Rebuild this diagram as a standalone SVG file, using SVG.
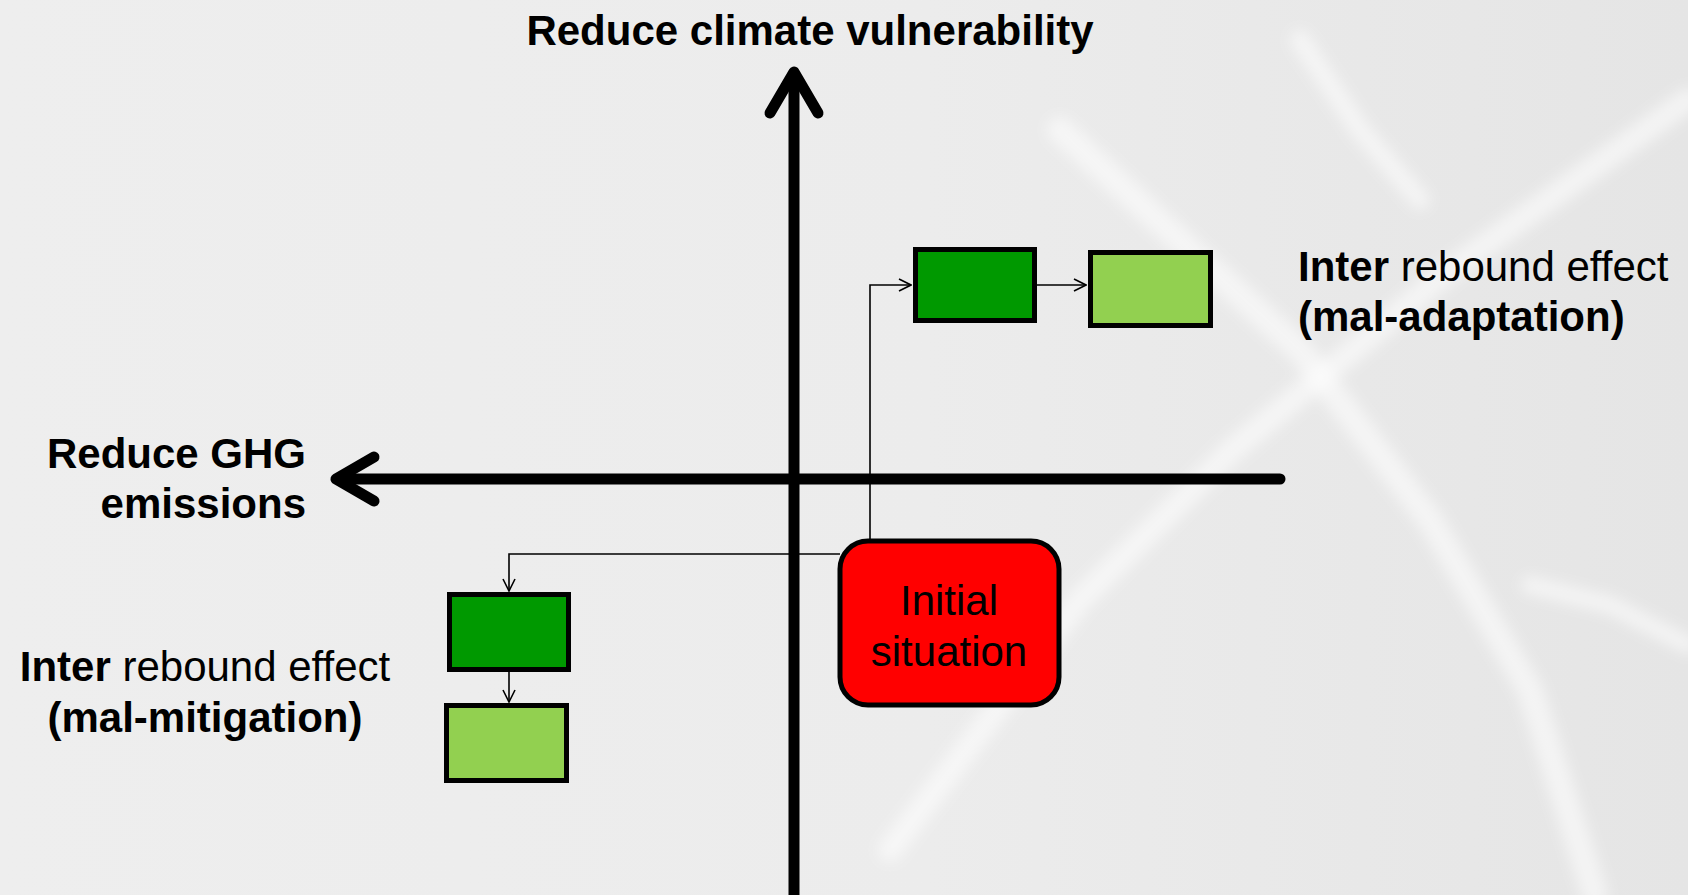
<svg xmlns="http://www.w3.org/2000/svg" width="1688" height="895" viewBox="0 0 1688 895">
  <defs>
    <style>
      .t { font-family: "Liberation Sans", Arial, sans-serif; font-size: 42px; fill: #000; }
      .b { font-weight: bold; }
      .box { stroke: #000; stroke-width: 5; }
      .dark { fill: #009900; }
      .light { fill: #92D050; }
      .conn { fill: none; stroke: #000; stroke-width: 1.6; }
      .axis { fill: none; stroke: #000; stroke-width: 11; stroke-linecap: round; stroke-linejoin: round; }
      .streak { fill: none; stroke: #ffffff; stroke-linecap: round; opacity: 0.55; }
    </style>
    <marker id="open" viewBox="0 0 14 14" refX="13" refY="7" markerWidth="14" markerHeight="14" markerUnits="userSpaceOnUse" orient="auto">
      <path d="M1,1 L13,7 L1,13" fill="none" stroke="#000" stroke-width="1.6"/>
    </marker>
    <filter id="blur" x="-20%" y="-20%" width="140%" height="140%">
      <feGaussianBlur stdDeviation="7"/>
    </filter>
    <linearGradient id="bgGrad" x1="0" y1="0" x2="1" y2="0">
      <stop offset="0" stop-color="#eeeeee"/>
      <stop offset="0.55" stop-color="#ececec"/>
      <stop offset="1" stop-color="#e5e5e5"/>
    </linearGradient>
  </defs>

  <!-- background -->
  <g id="background">
    <rect x="0" y="0" width="1688" height="895" fill="url(#bgGrad)"/>
    <g filter="url(#blur)">
      <path class="streak" stroke-width="26" d="M1060,130 L1190,250 L1300,350 L1430,520 L1530,690 L1595,895"/>
      <path class="streak" stroke-width="24" d="M1688,100 L1450,270 L1230,452 L1080,600 L890,850"/>
      <path class="streak" stroke-width="18" d="M1530,585 L1610,605 L1688,645"/>
      <path class="streak" stroke-width="20" d="M1300,40 L1360,130 L1420,200"/>
    </g>
  </g>

  <!-- axes -->
  <g id="axes">
    <line class="axis" x1="794" y1="900" x2="794" y2="74" stroke-linecap="butt"/>
    <polyline class="axis" points="770,113 794,72 818,113"/>
    <line class="axis" x1="1280" y1="479" x2="338" y2="479" stroke-linecap="butt"/>
    <polyline class="axis" points="374,457 336,479 374,501"/>
  </g>

  <!-- connectors -->
  <g id="connectors">
    <polyline class="conn" points="870,541 870,285 911,285" marker-end="url(#open)"/>
    <line class="conn" x1="1037" y1="285" x2="1086" y2="285" marker-end="url(#open)"/>
    <polyline class="conn" points="840,554 509,554 509,591" marker-end="url(#open)"/>
    <line class="conn" x1="509" y1="672" x2="509" y2="702" marker-end="url(#open)"/>
  </g>

  <!-- nodes -->
  <g id="initial">
    <rect x="840" y="541" width="219" height="164" rx="28" ry="28" fill="#FF0000" stroke="#000" stroke-width="5"/>
    <text class="t" x="949" y="615" text-anchor="middle">Initial</text>
    <text class="t" x="949" y="666" text-anchor="middle">situation</text>
  </g>
  <g id="adapt1">
    <rect class="box dark" x="915.5" y="249.5" width="119" height="71"/>
  </g>
  <g id="adapt2">
    <rect class="box light" x="1090.5" y="252.5" width="120" height="73"/>
  </g>
  <g id="mitig1">
    <rect class="box dark" x="449.5" y="594.5" width="119" height="75"/>
  </g>
  <g id="mitig2">
    <rect class="box light" x="446.5" y="705.5" width="120" height="75"/>
  </g>

  <!-- labels -->
  <g id="label-vulnerability">
    <text class="t b" x="810" y="45" text-anchor="middle">Reduce climate vulnerability</text>
  </g>
  <g id="label-ghg">
    <text class="t b" x="306" y="468" text-anchor="end">Reduce GHG</text>
    <text class="t b" x="306" y="518" text-anchor="end">emissions</text>
  </g>
  <g id="label-maladaptation">
    <text class="t" x="1298" y="281"><tspan font-weight="bold">Inter</tspan> rebound effect</text>
    <text class="t b" x="1298" y="331">(mal-adaptation)</text>
  </g>
  <g id="label-malmitigation">
    <text class="t" x="205" y="681" text-anchor="middle"><tspan font-weight="bold">Inter</tspan> rebound effect</text>
    <text class="t b" x="205" y="732" text-anchor="middle">(mal-mitigation)</text>
  </g>
</svg>
